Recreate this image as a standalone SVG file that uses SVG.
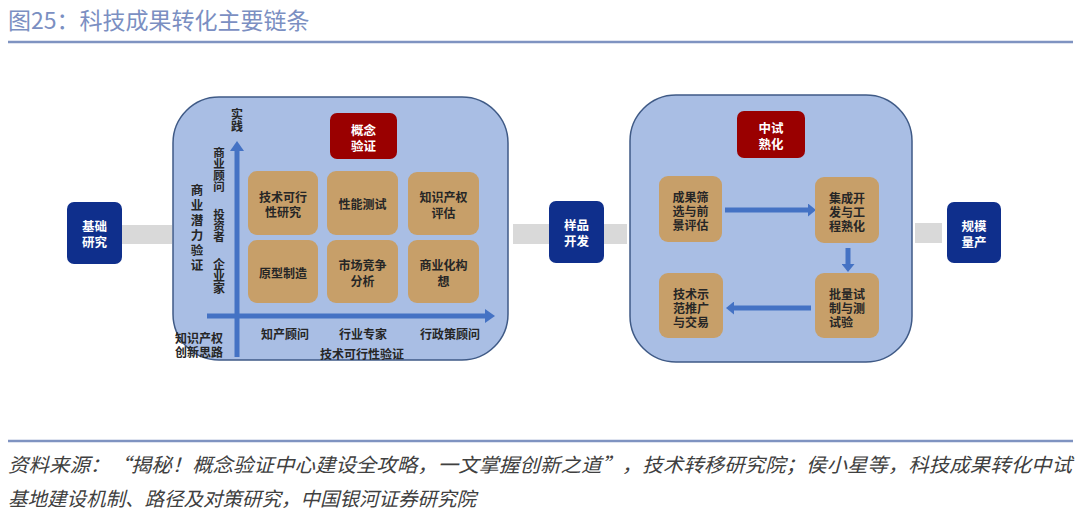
<svg xmlns="http://www.w3.org/2000/svg" width="1080" height="527" viewBox="0 0 1080 527">
<style>
.bg{fill:#ffffff}
.title{font-family:"Noto Sans CJK SC","Noto Sans",sans-serif;font-size:23px;fill:#7b8fc2}
.src{font-family:"Noto Sans CJK SC","Noto Sans",sans-serif;font-size:19.5px;fill:#404040;font-style:italic}
.rule{stroke:#7f93c1;stroke-width:2.5}
.panel{fill:#a9bee4;stroke:#3f5a86;stroke-width:1.5}
.stage{fill:#0f2f8c}
.stage-t{font-family:"Noto Sans CJK SC","Noto Sans",sans-serif;font-size:12.5px;font-weight:700;fill:#ffffff;text-anchor:middle;dominant-baseline:central}
.red{fill:#9a0000}
.tan{fill:#c79f69}
.tan-t{font-family:"Noto Sans CJK SC","Noto Sans",sans-serif;font-size:12px;font-weight:700;fill:#262626;text-anchor:middle;dominant-baseline:central}
.lab{font-family:"Noto Sans CJK SC","Noto Sans",sans-serif;font-size:12px;font-weight:700;fill:#262626;text-anchor:middle;dominant-baseline:central}
.vt{font-family:"Noto Sans CJK SC","Noto Sans",sans-serif;font-weight:700;fill:#262626;writing-mode:vertical-rl;text-anchor:start}
.bar{fill:#d9d9d9}
.ax{stroke:#4472c4;stroke-width:5;fill:none}
.fl{stroke:#4472c4;stroke-width:5;fill:none}
</style>
<defs>
<marker id="ah" viewBox="0 0 10 14" refX="0" refY="7" markerWidth="10" markerHeight="14" orient="auto" markerUnits="userSpaceOnUse">
<path d="M0,0 L10,7 L0,14 z" fill="#4472c4"/>
</marker>
<marker id="ah2" viewBox="0 0 8 13" refX="0" refY="6.5" markerWidth="8" markerHeight="13" orient="auto" markerUnits="userSpaceOnUse">
<path d="M0,0 L8,6.5 L0,13 z" fill="#4472c4"/>
</marker>
</defs>
<rect class="bg" x="0" y="0" width="1080" height="527"/>

<text class="title" x="8" y="29">图25：科技成果转化主要链条</text>
<line class="rule" x1="8" y1="42" x2="1073" y2="42"/>

<g id="panel-poc">
<rect class="panel" x="173" y="97" width="335" height="263" rx="46" ry="46"/>
</g>
<g id="panel-pilot">
<rect class="panel" x="630" y="95" width="282" height="267" rx="46" ry="46"/>
</g>

<g id="connectors">
<rect class="bar" x="122" y="225" width="50" height="19"/>
<rect class="bar" x="513" y="224" width="36" height="20"/>
<rect class="bar" x="604" y="224" width="23" height="20"/>
<rect class="bar" x="915" y="223" width="27" height="20"/>
<line class="ax" x1="237" y1="357" x2="237" y2="151" marker-end="url(#ah)"/>
<line class="ax" x1="207" y1="316" x2="485" y2="316" marker-end="url(#ah)"/>
<line class="fl" x1="725" y1="210" x2="808" y2="210" marker-end="url(#ah2)"/>
<line class="fl" x1="848" y1="248" x2="848" y2="264" marker-end="url(#ah2)"/>
<line class="fl" x1="811" y1="308" x2="734" y2="308" marker-end="url(#ah2)"/>
</g>

<g id="node-jichu">
<rect class="stage" x="67" y="202" width="55" height="62" rx="7"/>
<text class="stage-t"><tspan x="94.5" y="225">基础</tspan><tspan x="94.5" y="241">研究</tspan></text>
</g>
<g id="node-yangpin">
<rect class="stage" x="549" y="201" width="55" height="62" rx="7"/>
<text class="stage-t"><tspan x="576.5" y="224">样品</tspan><tspan x="576.5" y="240">开发</tspan></text>
</g>
<g id="node-guimo">
<rect class="stage" x="947" y="202" width="54" height="61" rx="7"/>
<text class="stage-t"><tspan x="974" y="225">规模</tspan><tspan x="974" y="241">量产</tspan></text>
</g>

<g id="node-gainian">
<rect class="red" x="330" y="113" width="67" height="46" rx="7"/>
<text class="stage-t"><tspan x="363.5" y="129">概念</tspan><tspan x="363.5" y="145">验证</tspan></text>
</g>
<g id="node-jishukexing">
<rect class="tan" x="248" y="171" width="70" height="64" rx="9"/>
<text class="tan-t"><tspan x="283" y="196">技术可行</tspan><tspan x="283" y="211">性研究</tspan></text>
</g>
<g id="node-xingneng">
<rect class="tan" x="327" y="171" width="71" height="64" rx="9"/>
<text class="tan-t" x="362.5" y="203">性能测试</text>
</g>
<g id="node-zhishichanquan">
<rect class="tan" x="408" y="172" width="71" height="63" rx="9"/>
<text class="tan-t"><tspan x="443.5" y="196">知识产权</tspan><tspan x="443.5" y="212">评估</tspan></text>
</g>
<g id="node-yuanxing">
<rect class="tan" x="248" y="240" width="70" height="63" rx="9"/>
<text class="tan-t" x="283" y="272">原型制造</text>
</g>
<g id="node-shichang">
<rect class="tan" x="327" y="240" width="71" height="63" rx="9"/>
<text class="tan-t"><tspan x="362.5" y="264">市场竞争</tspan><tspan x="362.5" y="280">分析</tspan></text>
</g>
<g id="node-shangyehua">
<rect class="tan" x="408" y="240" width="71" height="63" rx="9"/>
<text class="tan-t"><tspan x="443.5" y="264">商业化构</tspan><tspan x="443.5" y="280">想</tspan></text>
</g>

<g id="axis-labels">
<text class="vt" x="237" y="108" style="font-size:12px">实践</text>
<text class="vt" x="219" y="147" style="font-size:11.5px;letter-spacing:-0.2px">商业顾问</text>
<text class="vt" x="219" y="208.5" style="font-size:11.5px;letter-spacing:-0.5px">投资者</text>
<text class="vt" x="219" y="258" style="font-size:12px">企业家</text>
<text class="vt" x="197" y="183.5" style="font-size:12.5px;letter-spacing:2.5px">商业潜力验证</text>
<text class="lab"><tspan x="199" y="337">知识产权</tspan><tspan x="199" y="351">创新思路</tspan></text>
<text class="lab" x="285" y="333">知产顾问</text>
<text class="lab" x="363" y="333">行业专家</text>
<text class="lab" x="450" y="333">行政策顾问</text>
<text class="lab" x="362" y="353">技术可行性验证</text>
</g>

<g id="node-zhongshi">
<rect class="red" x="737" y="111" width="68" height="47" rx="7"/>
<text class="stage-t"><tspan x="771" y="127">中试</tspan><tspan x="771" y="143">熟化</tspan></text>
</g>
<g id="node-chengguo">
<rect class="tan" x="659" y="176" width="63" height="66" rx="9"/>
<text class="tan-t"><tspan x="690.5" y="196">成果筛</tspan><tspan x="690.5" y="210">选与前</tspan><tspan x="690.5" y="224">景评估</tspan></text>
</g>
<g id="node-jicheng">
<rect class="tan" x="815" y="177" width="64" height="66" rx="9"/>
<text class="tan-t"><tspan x="847" y="197">集成开</tspan><tspan x="847" y="211">发与工</tspan><tspan x="847" y="225">程熟化</tspan></text>
</g>
<g id="node-piliang">
<rect class="tan" x="815" y="273" width="64" height="65" rx="9"/>
<text class="tan-t"><tspan x="847" y="293">批量试</tspan><tspan x="847" y="307">制与测</tspan><tspan x="841" y="321">试验</tspan></text>
</g>
<g id="node-shifan">
<rect class="tan" x="659" y="273" width="64" height="65" rx="9"/>
<text class="tan-t"><tspan x="691" y="293">技术示</tspan><tspan x="691" y="307">范推广</tspan><tspan x="691" y="321">与交易</tspan></text>
</g>

<line class="rule" x1="8" y1="441" x2="1073" y2="441"/>
<text class="src" x="8" y="472" textLength="1064" lengthAdjust="spacingAndGlyphs">资料来源：“揭秘！概念验证中心建设全攻略，一文掌握创新之道”，技术转移研究院；侯小星等，科技成果转化中试</text>
<text class="src" x="8" y="506">基地建设机制、路径及对策研究，中国银河证券研究院</text>
</svg>
